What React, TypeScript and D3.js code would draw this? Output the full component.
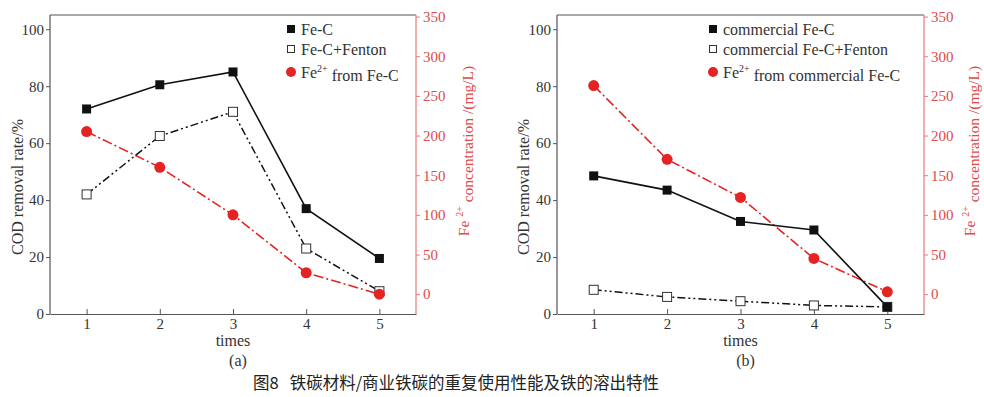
import * as d3 from "d3";
import { useEffect, useRef } from "react";

const times = [1, 2, 3, 4, 5];

// panel (a) self-made Fe-C
const feC_a = [72, 80.5, 85, 37, 19.5];
const fenton_a = [42, 62.5, 71, 23, 8];
const fe2_a = [205, 160, 100, 27, 0];

// panel (b) commercial Fe-C
const feC_b = [48.5, 43.5, 32.5, 29.5, 2.5];
const fenton_b = [8.5, 6, 4.5, 3, 2.5];
const fe2_b = [263, 170, 122, 45, 3];

const leftTicks = [0, 20, 40, 60, 80, 100];
const rightTicks = [0, 50, 100, 150, 200, 250, 300, 350];

const COLORS = {
  text: "#333333",
  axis: "#555555",
  red: "#e52323",
  redText: "#e04a4a",
  redAxis: "#e57a7a",
};

const FONT = "'Liberation Serif', 'Times New Roman', serif";

const W = 984;
const H = 397;

type PanelOpts = {
  left: number;
  right: number;
  tag: string;
  labels: string[];
  feC: number[];
  fenton: number[];
  fe2: number[];
  legendX: number;
  leftLabelX: number;
  rightLabelX: number;
};

const drawPanel = (svg: d3.Selection<SVGSVGElement, unknown, null, undefined>, o: PanelOpts) => {
  const top = 15;
  const bottom = 314;
  const g = svg.append("g");

  const x = d3.scaleLinear().domain([0.5, 5.5]).range([o.left, o.right]);
  const yL = d3.scaleLinear().domain([0, 105]).range([bottom, top]);
  const yR = d3.scaleLinear().domain([-25, 352]).range([bottom, top]);

  // top frame line
  g.append("line")
    .attr("x1", o.left).attr("x2", o.right)
    .attr("y1", top).attr("y2", top)
    .attr("stroke", COLORS.axis).attr("stroke-width", 1.2);

  // left axis
  const axL = g.append("g")
    .attr("transform", `translate(${o.left},0)`)
    .call(d3.axisLeft(yL).tickValues(leftTicks).tickSize(4).tickSizeOuter(0).tickPadding(2));
  axL.select(".domain").attr("stroke", COLORS.axis).attr("stroke-width", 1.2)
    .attr("d", `M0,${top}V${bottom}`);
  axL.selectAll("line").attr("stroke", COLORS.axis);
  axL.selectAll("text").attr("font-family", FONT).attr("font-size", 15).attr("fill", COLORS.text);

  // bottom axis, ticks inward
  const axB = g.append("g")
    .attr("transform", `translate(0,${bottom})`)
    .call(d3.axisBottom(x).tickValues(times).tickFormat(d3.format("d")).tickSize(-5).tickSizeOuter(0).tickPadding(4));
  axB.select(".domain").attr("stroke", COLORS.axis).attr("stroke-width", 1.2);
  axB.selectAll("line").attr("stroke", COLORS.axis);
  axB.selectAll("text").attr("font-family", FONT).attr("font-size", 15).attr("fill", COLORS.text);

  // right axis (red)
  const axR = g.append("g")
    .attr("transform", `translate(${o.right},0)`)
    .call(d3.axisRight(yR).tickValues(rightTicks).tickSize(4).tickSizeOuter(0).tickPadding(3));
  axR.select(".domain").attr("stroke", COLORS.redAxis).attr("stroke-width", 1.2)
    .attr("d", `M0,${top}V${bottom}`);
  axR.selectAll("line").attr("stroke", COLORS.redAxis);
  axR.selectAll("text").attr("font-family", FONT).attr("font-size", 15).attr("fill", COLORS.redText);

  // axis titles
  g.append("text")
    .attr("transform", `translate(${o.leftLabelX},187) rotate(-90)`)
    .attr("text-anchor", "middle").attr("dy", "0.35em")
    .attr("font-family", FONT).attr("font-size", 16).attr("fill", COLORS.text)
    .text("COD removal rate/%");

  const rt = g.append("text")
    .attr("transform", `translate(${o.rightLabelX},151) rotate(-90)`)
    .attr("text-anchor", "middle").attr("dy", "0.35em")
    .attr("font-family", FONT).attr("font-size", 15.5).attr("fill", COLORS.redText);
  rt.append("tspan").text("Fe ");
  rt.append("tspan").attr("font-size", 10).attr("dy", "-0.6em").text("2+");
  rt.append("tspan").attr("dy", "0.6em").text(" concentration /(mg/L)");

  g.append("text")
    .attr("x", x(3)).attr("y", 346)
    .attr("text-anchor", "middle")
    .attr("font-family", FONT).attr("font-size", 16).attr("fill", COLORS.text)
    .text("times");

  g.append("text")
    .attr("x", x(3) + 5).attr("y", 366)
    .attr("text-anchor", "middle")
    .attr("font-family", FONT).attr("font-size", 16).attr("fill", COLORS.text)
    .text(o.tag);

  const lineL = d3.line<number>().x((_, i) => x(times[i])).y((d) => yL(d));
  const lineR = d3.line<number>().x((_, i) => x(times[i])).y((d) => yR(d));

  g.append("path").attr("d", lineR(o.fe2)).attr("fill", "none")
    .attr("stroke", COLORS.red).attr("stroke-width", 1.6).attr("stroke-dasharray", "10,3,2,3");
  g.append("path").attr("d", lineL(o.fenton)).attr("fill", "none")
    .attr("stroke", "#111").attr("stroke-width", 1.5).attr("stroke-dasharray", "8,3,2,3,2,3");
  g.append("path").attr("d", lineL(o.feC)).attr("fill", "none")
    .attr("stroke", "#111").attr("stroke-width", 1.6);

  const s = 9;
  g.selectAll(".fen").data(o.fenton).enter().append("rect")
    .attr("x", (_, i) => x(times[i]) - s / 2).attr("y", (d) => yL(d) - s / 2)
    .attr("width", s).attr("height", s)
    .attr("fill", "#fff").attr("stroke", "#333").attr("stroke-width", 1);
  g.selectAll(".fec").data(o.feC).enter().append("rect")
    .attr("x", (_, i) => x(times[i]) - s / 2).attr("y", (d) => yL(d) - s / 2)
    .attr("width", s).attr("height", s)
    .attr("fill", "#111");
  g.selectAll(".fe2").data(o.fe2).enter().append("circle")
    .attr("cx", (_, i) => x(times[i])).attr("cy", (d) => yR(d))
    .attr("r", 5.5).attr("fill", COLORS.red);

  // legend
  const rows = [29, 49, 72];
  const lg = g.append("g").attr("font-family", FONT).attr("font-size", 16).attr("fill", COLORS.text);
  lg.append("rect").attr("x", o.legendX - 4).attr("y", rows[0] - 4).attr("width", 8).attr("height", 8).attr("fill", "#111");
  lg.append("rect").attr("x", o.legendX - 3.5).attr("y", rows[1] - 3.5).attr("width", 7).attr("height", 7)
    .attr("fill", "#fff").attr("stroke", "#333").attr("stroke-width", 1);
  lg.append("circle").attr("cx", o.legendX).attr("cy", rows[2]).attr("r", 5).attr("fill", COLORS.red);
  lg.append("text").attr("x", o.legendX + 10).attr("y", rows[0]).attr("dy", "0.35em").text(o.labels[0]);
  lg.append("text").attr("x", o.legendX + 10).attr("y", rows[1]).attr("dy", "0.35em").text(o.labels[1]);
  const t3 = lg.append("text").attr("x", o.legendX + 10).attr("y", rows[2]).attr("dy", "0.35em");
  t3.append("tspan").text("Fe");
  t3.append("tspan").attr("font-size", 10).attr("dy", "-0.6em").text("2+");
  t3.append("tspan").attr("dy", "0.6em").text(" " + o.labels[2]);
};

export default function App() {
  const svgRef = useRef<SVGSVGElement>(null);

  useEffect(() => {
    const svg = d3.select(svgRef.current!);
    svg.selectAll("*").remove();
    svg.append("rect").attr("width", W).attr("height", H).attr("fill", "#fff");

    drawPanel(svg, {
      left: 50,
      right: 416,
      tag: "(a)",
      labels: ["Fe-C", "Fe-C+Fenton", "from Fe-C"],
      feC: feC_a,
      fenton: fenton_a,
      fe2: fe2_a,
      legendX: 291,
      leftLabelX: 17,
      rightLabelX: 464,
    });
    drawPanel(svg, {
      left: 557,
      right: 924,
      tag: "(b)",
      labels: ["commercial Fe-C", "commercial Fe-C+Fenton", "from commercial Fe-C"],
      feC: feC_b,
      fenton: fenton_b,
      fe2: fe2_b,
      legendX: 713,
      leftLabelX: 523,
      rightLabelX: 970,
    });

    svg.append("text")
      .attr("x", 456).attr("y", 389)
      .attr("text-anchor", "middle")
      .attr("font-family", "'Noto Sans CJK SC', sans-serif")
      .attr("font-size", 16.5).attr("fill", "#222")
      .attr("xml:space", "preserve")
      .text("图8   铁碳材料/商业铁碳的重复使用性能及铁的溶出特性");
  }, []);

  return (
    <div style={{ position: "absolute", left: 0, top: 0 }}>
      <svg ref={svgRef} width={W} height={H} style={{ display: "block" }} />
    </div>
  );
}
